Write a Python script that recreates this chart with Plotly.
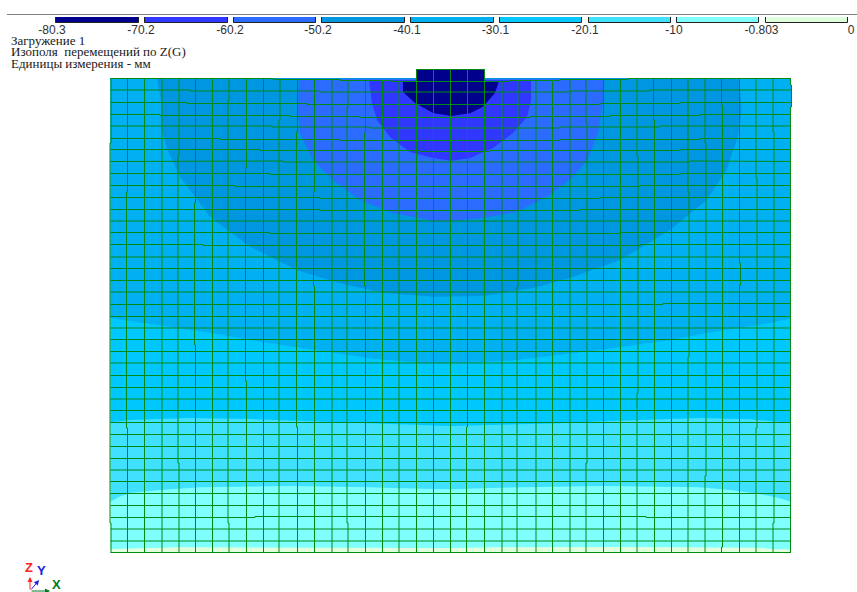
import plotly.graph_objects as go

W, H = 857, 592

# ---------- legend ----------
legend_labels = ["-80.3", "-70.2", "-60.2", "-50.2", "-40.1", "-30.1", "-20.1", "-10", "-0.803", "0"]
legend_ticks = [52, 141, 230, 318, 407, 495.5, 585, 674, 761.5, 851]
band_colors = ["#00008C", "#3038FF", "#2B6BFF", "#0096E0", "#00B0F0", "#00C8FF", "#40E0FF", "#80FFFF", "#E0FFDC"]
swatch_left = [56, 145, 234, 322, 411, 500, 589, 677, 766]
swatch_right = [139, 228, 316, 405, 494, 582, 671, 759, 848]

info_lines = ["Загружение 1", "Изополя\u00a0 перемещений по Z(G)", "Единицы измерения - мм"]

# ---------- mesh lines, in mesh units ----------
column_x = [111, 127.5, 144.5, 162, 179, 195.5, 212.5, 229, 246.5, 263.5, 280, 297.5, 314.5, 332, 348, 365.5, 382.5,
            399, 416.5, 433.5, 450.5, 467.5, 484.5, 502, 518, 536, 552.5, 570, 587, 603.5, 620.5, 637, 654.5, 671.5,
            688, 705, 722.5, 739.5, 756, 773, 790.5]
column_top = [78.5] * 10 + [79.5, 79.5, 79.5, 79.5, 80.5, 80.5, 80.5, 81.5] + [69.5] * 5 + \
             [81.5, 80.5, 80.5, 80.5, 79.5, 79.5, 79.5, 79.5] + [78.5] * 10
column_jogs = {0: [(143, 523, -1)], 1: [(192, 428, -1)], 4: [(155, 463, -1)], 5: [(203, 345, -1)],
               7: [(100, 523, -1)], 8: [(168, 381, -1)], 10: [(120, 553, -1)], 11: [(132, 427, -1)],
               12: [(192, 286, -1)], 14: [(107, 523, -1)], 15: [(133, 286, -1)], 21: [(427, 553, -1)],
               24: [(287, 553, -1)], 28: [(70, 122, -1), (463, 553, -1)], 31: [(156, 393, 1)], 32: [(70, 120, -1)],
               34: [(192, 357, 1)], 35: [(143, 476, 1)], 36: [(70, 105, -1), (547, 553, -1)], 37: [(263, 285, 1)],
               38: [(178, 428, 1)], 39: [(132, 523, 1)], 40: [(85, 107, 1)]}

row_y = [78.5, 90, 102.5, 114.5, 126, 138.5, 149.5, 161.5, 173.5, 185.5, 197.5, 209.5, 221, 232.5, 244.5, 257, 268.5,
         280.5, 292, 304.5, 316.5, 328, 339.5, 351.5, 363, 375.5, 387.5, 399, 410.5, 422.5, 434.5, 446.5, 458.5, 470,
         481.5, 493.5, 505.5, 517.5, 529, 541, 552.5]
row_jogs = {0: [(273, 628, 1), (340, 560, 1), (392, 510, 1)], 1: [(190, 650, 1), (320, 570, 1)],
            2: [(187, 680, 1), (307, 600, 1)], 3: [(160, 700, 1), (290, 610, 1), (360, 530, 1)],
            4: [(272, 660, 1), (370, 560, 1)], 5: [(220, 700, 1), (340, 560, 1)], 6: [(260, 680, 1), (420, 490, 1)],
            7: [(117, 782, -0.5), (283, 690, 1)], 8: [(270, 680, 1)], 9: [(235, 640, 1)], 10: [(320, 600, 1)],
            11: [(320, 580, 1)], 13: [(270, 620, 1)], 14: [(203, 640, 1)], 19: [(663, 792, -1)],
            30: [(153, 748, -0.5)], 36: [(118, 782, -0.5)], 37: [(255, 646, -1)]}
stamp_x = [416.5, 416.5, 484.5, 484.5]
stamp_y = [81.5, 69.5, 69.5, 81.5]

# ---------- isoline boundaries, in mesh units ----------
top_edge_x = [110.5, 273, 273, 340, 340, 392, 392, 416.5, 416.5, 484.5, 484.5, 510, 510, 560, 560, 628, 628, 791]
top_edge_y = [78, 78, 79, 79, 80, 80, 81, 81, 69, 69, 81, 81, 80, 80, 79, 79, 78, 78]

iso_08_x = [110.5, 128, 177, 450, 500, 620, 760, 775, 791]
iso_08_y = [549, 548.3, 547.3, 548, 547.3, 547, 547.7, 549.3, 549.3]
iso_10_x = [110.5, 118, 130, 160, 200, 290, 370, 400, 450, 500, 600, 700, 730, 760, 780, 791]
iso_10_y = [501.7, 497.3, 493, 490, 487.3, 486, 487.3, 488.3, 489.3, 487.7, 486, 487.3, 490, 494, 498.3, 501.7]
iso_20_x = [110.5, 130, 190, 250, 300, 370, 450, 500, 560, 610, 660, 700, 750, 791]
iso_20_y = [422.3, 420, 418, 419, 421, 423.3, 426, 425, 423.3, 421, 419, 418, 419.3, 422.7]
iso_30_x = [110.5, 130, 175, 210, 260, 320, 370, 420, 450, 510, 600, 670, 720, 770, 791]
iso_30_y = [318.3, 321, 327.7, 332.7, 341.7, 351, 358.3, 363.3, 363.3, 360.7, 350, 340, 330.7, 323.3, 318.3]
iso_40_x = [157, 161, 161, 166.7, 180, 210, 250, 296.7, 340, 383, 433, 451, 483, 533, 570, 620, 670, 706.7, 726.7, 738, 741.7, 739]
iso_40_y = [78, 100, 126.7, 148, 176.7, 216.7, 246.7, 270, 283.3, 292.7, 296.7, 296.7, 296, 288, 278, 260, 230, 200, 170, 136.7, 110, 78]
iso_50_x = [299, 298, 300, 313, 333, 360, 393, 433, 451, 483, 517, 550, 573, 587, 598, 603, 603]
iso_50_y = [79, 113, 133, 160, 180, 200, 213, 220.7, 220.7, 218, 211.7, 195, 176.7, 160, 133, 103, 79]
iso_60_x = [369, 372, 377, 390, 410, 433, 451, 470, 493, 513, 527, 531, 531]
iso_60_y = [80, 103, 120, 137, 152, 158, 160.7, 158, 148, 133, 117, 100, 80]
iso_70_x = [403, 403, 415, 433, 451, 470, 483, 495, 499, 484.5, 484.5, 416.5, 416.5]
iso_70_y = [81, 92, 103, 113, 116, 113.3, 106.7, 93, 81, 81, 69, 69, 81]

triad_labels = ["Z", "Y", "X"]
triad_colors = ["#FF2020", "#2020E0", "#007A20"]
triad_text_x = [28.5, 41, 56.5]
triad_text_y = [567, 570.5, 584]
triad_head_x = [30, 39, 50]
triad_head_y = [577, 580, 591]
triad_origin = (30, 591)


def jogged(base, windows, start, end):
    """Cross-axis position along one mesh line, with its small steps."""
    cuts = sorted({start, end, *[c for w in windows for c in w[:2] if start < c < end]})
    along, across = [], []
    for a, b in zip(cuts[:-1], cuts[1:]):
        mid = (a + b) / 2
        v = base + sum(w[2] for w in windows if w[0] <= mid < w[1])
        along += [a, b]
        across += [v, v]
    return along, across


def top_closed(xs, ys):
    """Region between the body's top edge and a boundary running left to right."""
    return top_edge_x + xs[::-1], top_edge_y + ys[::-1]


fig = go.Figure()


def band(xs, ys, color):
    fig.add_trace(go.Scatter(x=xs, y=ys, mode="lines", fill="toself", fillcolor=color,
                             line=dict(width=0, color=color), hoverinfo="skip", showlegend=False))


band(*top_closed([110.5, 791], [552.5, 552.5]), band_colors[8])
band(*top_closed(iso_08_x, iso_08_y), band_colors[7])
band(*top_closed(iso_10_x, iso_10_y), band_colors[6])
band(*top_closed(iso_20_x, iso_20_y), band_colors[5])
band(*top_closed(iso_30_x, iso_30_y), band_colors[4])
band(iso_40_x, iso_40_y, band_colors[3])
band(iso_50_x, iso_50_y, band_colors[2])
band(iso_60_x, iso_60_y, band_colors[1])
band(iso_70_x, iso_70_y, band_colors[0])

# mesh
mx, my = [], []
for i, x0 in enumerate(column_x):
    ys, xs = jogged(x0, column_jogs.get(i, []), column_top[i], 552.5)
    mx += xs + [None]
    my += ys + [None]
for j, y0 in enumerate(row_y):
    xs, ys = jogged(y0, row_jogs.get(j, []), 110.5, 791)
    mx += xs + [None]
    my += ys + [None]
mx += stamp_x
my += stamp_y
fig.add_trace(go.Scatter(x=mx, y=my, mode="lines", line=dict(color="#008A14", width=1),
                         hoverinfo="skip", showlegend=False, connectgaps=False))

# legend swatches
fig.add_trace(go.Bar(x=[(a + b) / 2 for a, b in zip(swatch_left, swatch_right)],
                     y=[1] * len(band_colors),
                     width=[b - a for a, b in zip(swatch_left, swatch_right)],
                     marker=dict(color=band_colors, line=dict(color="#202020", width=1)),
                     xaxis="x2", yaxis="y2", hoverinfo="skip", showlegend=False))

annotations = []
for t, py in zip(info_lines, [40.5, 52, 63.5]):
    annotations.append(dict(x=9 / W, y=1 - py / H, xref="paper", yref="paper", text=t, showarrow=False,
                            xanchor="left", yanchor="middle",
                            font=dict(family="Liberation Serif", size=13, color="#202020")))
for t, c, px, py, hx, hy in zip(triad_labels, triad_colors, triad_text_x, triad_text_y, triad_head_x, triad_head_y):
    annotations.append(dict(x=px / W, y=1 - py / H, xref="paper", yref="paper", text=f"<b>{t}</b>", showarrow=False,
                            xanchor="center", yanchor="middle",
                            font=dict(family="Liberation Sans", size=13, color=c)))
    annotations.append(dict(x=hx / W, y=1 - hy / H, xref="paper", yref="paper", text="", showarrow=True,
                            ax=triad_origin[0] - hx, ay=triad_origin[1] - hy, arrowcolor=c, arrowwidth=1,
                            arrowhead=2, arrowsize=1))

fig.update_layout(
    width=W, height=H, margin=dict(l=0, r=0, t=0, b=0), autosize=False,
    paper_bgcolor="white", plot_bgcolor="rgba(0,0,0,0)",
    showlegend=False, bargap=0, annotations=annotations,
    xaxis=dict(domain=[100 / W, 800 / W], range=[100, 800], visible=False, anchor="y"),
    yaxis=dict(domain=[32 / H, 532 / H], range=[560, 60], visible=False, anchor="x"),
    xaxis2=dict(domain=[0, 1], range=[0, W], anchor="y2", showgrid=False, zeroline=False, showline=False,
                tickmode="array", tickvals=legend_ticks, ticktext=legend_labels, ticks="", ticklen=0,
                ticklabelstandoff=-2,
                tickfont=dict(family="Liberation Sans", size=12, color="#303030")),
    yaxis2=dict(domain=[1 - 23 / H, 1 - 17 / H], range=[0, 1], visible=False, anchor="x2"),
    shapes=[dict(type="line", xref="paper", yref="paper", x0=7 / W, x1=1, y0=1 - 14.5 / H, y1=1 - 14.5 / H,
                 line=dict(color="#808080", width=1))],
)

fig.write_html("out.html", config=dict(displayModeBar=False),
               post_script="document.body.style.margin='0';document.documentElement.style.overflow='hidden';")
